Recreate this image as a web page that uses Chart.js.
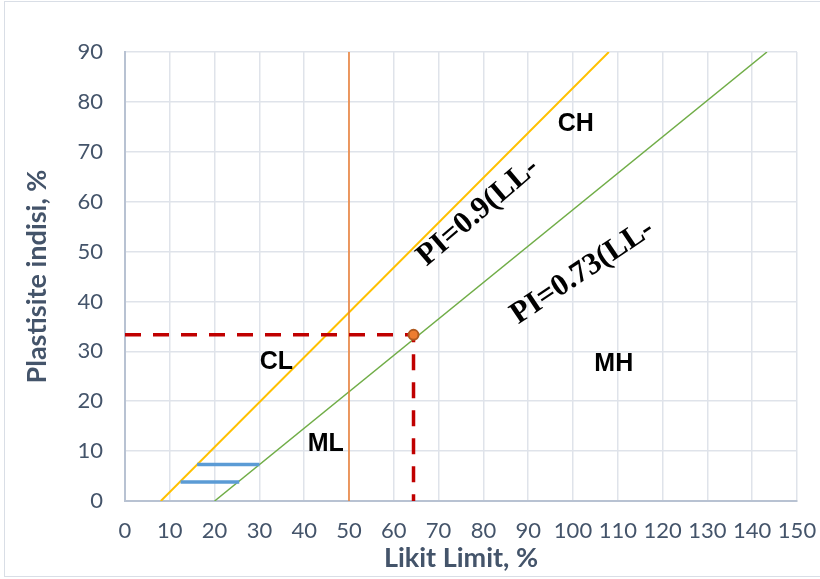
<!DOCTYPE html>
<html>
<head>
<meta charset="utf-8">
<script src="https://cdn.jsdelivr.net/npm/chart.js@4.4.1/dist/chart.umd.min.js"></script>
<style>
  body { margin: 0; background: #fff; }
  #wrap { position: relative; width: 820px; height: 579px; }
</style>
</head>
<body>
<div id="wrap"><canvas id="chart" width="820" height="579"></canvas></div>
<script>
// ---- data (liquid limit LL on x, plasticity index PI on y) ----
const xTicks = [0, 10, 20, 30, 40, 50, 60, 70, 80, 90, 100, 110, 120, 130, 140, 150];
const yTicks = [0, 10, 20, 30, 40, 50, 60, 70, 80, 90];

const uLineLL = [8, 108];
const uLinePI = [0, 90];
const aLineLL = [20, 143.3];
const aLinePI = [0, 90];
const limitLL = [50, 50];
const limitPI = [0, 90];
const bandLowLL = [12.4, 25.5];
const bandLowPI = [3.8, 3.8];
const bandHighLL = [16.1, 30];
const bandHighPI = [7.3, 7.3];
const sampleLL = [64.4];
const samplePI = [33.3];
const guideLL = [0, 64.4, 64.4];
const guidePI = [33.3, 33.3, 0];

const zoneNames = ['CL', 'ML', 'CH', 'MH'];
const zoneLL = [33.8, 44.8, 100.6, 109.1];
const zonePI = [27.9, 11.5, 75.5, 27.5];

const eqText = ['PI=0.9(LL-', 'PI=0.73(LL-'];
const eqLL = [78.8, 102.1];
const eqPI = [57.9, 45.9];
const eqAngle = [-40.6, -33.8];

const toPoints = (xs, ys) => xs.map((x, i) => ({ x: x, y: ys[i] }));

const lineSet = (xs, ys, color, width, order) => ({
    data: toPoints(xs, ys),
    showLine: true,
    borderColor: color,
    borderWidth: width,
    pointRadius: 0,
    fill: false,
    order: order
});

const axisText = '#44546a';
const axisFont = 'Lato, "Open Sans", sans-serif';

// labels drawn on top of the plot, anchored through the scales
const labelPlugin = {
    id: 'labels',
    afterDatasetsDraw(chart) {
        const ctx = chart.ctx;
        const sx = chart.scales.x, sy = chart.scales.y;
        ctx.save();
        ctx.fillStyle = '#000';
        ctx.textAlign = 'center';
        ctx.textBaseline = 'middle';
        ctx.font = 'bold 25px "Liberation Sans", Arial, sans-serif';
        zoneNames.forEach((t, i) => {
            ctx.fillText(t, sx.getPixelForValue(zoneLL[i]), sy.getPixelForValue(zonePI[i]));
        });
        ctx.font = 'bold 31px "Liberation Serif", "Times New Roman", serif';
        eqText.forEach((t, i) => {
            ctx.save();
            ctx.translate(sx.getPixelForValue(eqLL[i]), sy.getPixelForValue(eqPI[i]));
            ctx.rotate(eqAngle[i] * Math.PI / 180);
            ctx.fillText(t, 0, 0);
            ctx.restore();
        });
        ctx.restore();
    },
    afterDraw(chart) {
        const ctx = chart.ctx;
        ctx.save();
        ctx.strokeStyle = '#d9dee6';
        ctx.lineWidth = 1;
        ctx.strokeRect(4.5, 1.5, 830, 575);
        ctx.restore();
    }
};

new Chart(document.getElementById('chart'), {
    type: 'scatter',
    data: {
        datasets: [
            {
                data: toPoints(sampleLL, samplePI),
                pointRadius: 5,
                pointBackgroundColor: '#ed7d31',
                pointBorderColor: '#ae5a21',
                pointBorderWidth: 2,
                clip: false,
                order: 0
            },
            Object.assign(lineSet(guideLL, guidePI, '#c00000', 3.5, 1), { borderDash: [16, 12] }),
            lineSet(bandHighLL, bandHighPI, '#5b9bd5', 3.5, 2),
            lineSet(bandLowLL, bandLowPI, '#5b9bd5', 3.5, 2),
            lineSet(limitLL, limitPI, '#ed7d31', 1.5, 3),
            lineSet(aLineLL, aLinePI, '#70ad47', 1.5, 4),
            lineSet(uLineLL, uLinePI, '#ffc000', 2, 5)
        ]
    },
    options: {
        responsive: false,
        animation: false,
        layout: { padding: { top: 52, right: 23, left: 0, bottom: 0 } },
        plugins: {
            legend: { display: false },
            tooltip: { enabled: false }
        },
        scales: {
            x: {
                type: 'linear',
                min: 0,
                max: 150,
                afterBuildTicks: (s) => { s.ticks = xTicks.map(v => ({ value: v })); },
                afterFit: (s) => { s.height = 78; s.paddingLeft = 0; s.paddingRight = 0; },
                grid: { color: '#dfe3ea', lineWidth: 1.5, drawTicks: false },
                border: { color: '#b8c2d2', width: 2 },
                ticks: {
                    padding: 17,
                    maxRotation: 0,
                    autoSkip: false,
                    color: axisText,
                    font: { family: axisFont, size: 22 }
                },
                title: {
                    display: true,
                    text: 'Likit Limit, %',
                    color: axisText,
                    padding: { top: 0, bottom: 5 },
                    font: { family: axisFont, size: 27, weight: 'bold' }
                }
            },
            y: {
                type: 'linear',
                min: 0,
                max: 90,
                afterBuildTicks: (s) => { s.ticks = yTicks.map(v => ({ value: v })); },
                afterFit: (s) => { s.width = 125; s.paddingTop = 0; s.paddingBottom = 0; },
                grid: { color: '#dfe3ea', lineWidth: 1.5, drawTicks: false },
                border: { color: '#b8c2d2', width: 2 },
                ticks: {
                    padding: 22,
                    color: axisText,
                    font: { family: axisFont, size: 22 }
                },
                title: {
                    display: true,
                    text: 'Plastisite indisi, %',
                    color: axisText,
                    padding: { top: 21, bottom: 0 },
                    font: { family: axisFont, size: 27, weight: 'bold' }
                }
            }
        }
    },
    plugins: [labelPlugin]
});
</script>
</body>
</html>
